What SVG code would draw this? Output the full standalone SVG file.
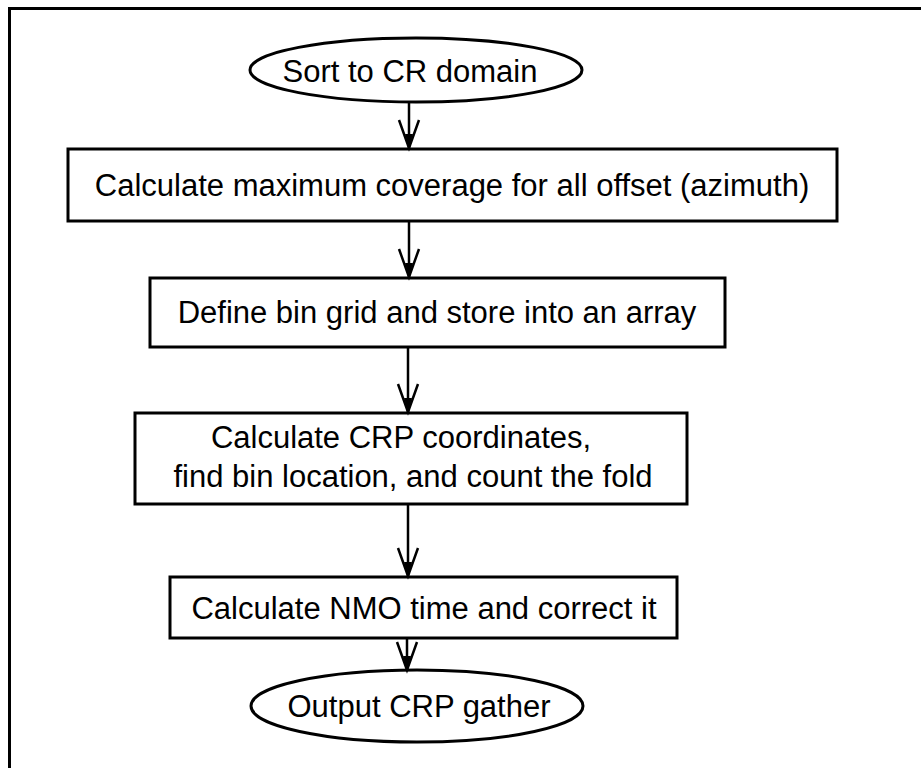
<svg xmlns="http://www.w3.org/2000/svg" width="921" height="768" viewBox="0 0 921 768">
<defs>
<style>
.n{fill:#fff;stroke:#000;stroke-width:3}
.t{font-family:"Liberation Sans",Arial,Helvetica,sans-serif;font-size:31px;fill:#000;text-anchor:middle}
.c{stroke:#000;stroke-width:2.5;fill:none}
</style>
<marker id="ah" markerUnits="userSpaceOnUse" refX="0" refY="0" markerWidth="40" markerHeight="40" overflow="visible" orient="auto">
<path d="M-28,-10 L0,0 L-28,10" fill="none" stroke="#000" stroke-width="2.5" stroke-linejoin="miter"/>
<path d="M0,0 L-14,-4 L-14,4 Z" fill="#000"/>
</marker>
</defs>
<rect width="921" height="768" fill="#fff"/>
<path d="M9.5,768 V8.5 H921" fill="none" stroke="#000" stroke-width="3"/>
<g id="n1"><ellipse class="n" cx="416" cy="70" rx="166" ry="32"/><text class="t" x="410" y="82">Sort to CR domain</text></g>
<g id="n2"><rect class="n" x="68" y="149" width="769" height="72"/><text class="t" x="452" y="196">Calculate maximum coverage for all offset (azimuth)</text></g>
<g id="n3"><rect class="n" x="150" y="278" width="575" height="69"/><text class="t" x="437" y="323">Define bin grid and store into an array</text></g>
<g id="n4"><rect class="n" x="135" y="413" width="552" height="91"/><text class="t" x="401" y="448">Calculate CRP coordinates,</text><text class="t" x="413" y="487">find bin location, and count the fold</text></g>
<g id="n5"><rect class="n" x="170" y="577" width="507" height="61"/><text class="t" x="424" y="619">Calculate NMO time and correct it</text></g>
<g id="n6"><ellipse class="n" cx="417" cy="706" rx="166" ry="36"/><text class="t" x="419" y="717">Output CRP gather</text></g>
<g id="connectors">
<line class="c" x1="409" y1="102" x2="409" y2="148" marker-end="url(#ah)"/>
<line class="c" x1="409" y1="221" x2="409" y2="277" marker-end="url(#ah)"/>
<line class="c" x1="408" y1="347" x2="408" y2="412" marker-end="url(#ah)"/>
<line class="c" x1="408" y1="504" x2="408" y2="576" marker-end="url(#ah)"/>
<line class="c" x1="407" y1="638" x2="407" y2="670" marker-end="url(#ah)"/>
</g>
</svg>
